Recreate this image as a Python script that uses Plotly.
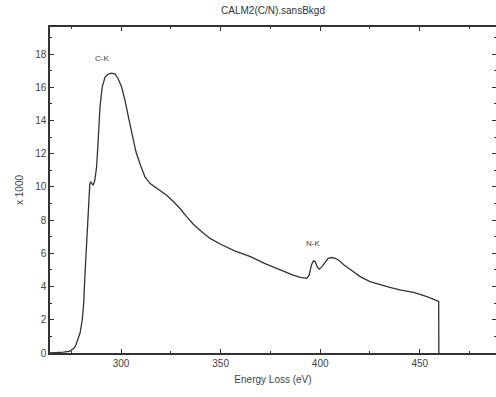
import plotly.graph_objects as go

energy_ev = [264, 268, 271, 274, 276, 277, 278, 279.4, 280.5, 281.2, 281.9, 282.8, 283.6, 284.3, 284.8,
             285.4, 286.0, 286.8, 287.7, 288.5, 289.4, 290.5, 291.9, 293.5, 295.3, 297, 298.6,
             300.3, 302, 303.7, 305.4, 307.5, 309.5, 312, 314.6, 318.5, 322.9, 326, 329.6, 333,
             336.3, 340.5, 344.7, 350, 357, 365, 372, 380, 386, 390, 393.3, 394.5, 395.6, 396.6,
             397.5, 398.5, 399.5, 400.9, 402.5, 404, 405.9, 407.5, 409.2, 412, 416, 420.1, 425,
             430.2, 435, 440, 446.9, 453.6, 459.5, 459.6]
counts_k = [0, 0.02, 0.05, 0.1, 0.25, 0.4, 0.7, 1.2, 2.0, 3.0, 4.8, 7.0, 9.2, 10.2, 10.3,
            10.2, 10.1, 10.4, 11.2, 12.8, 14.8, 16.0, 16.6, 16.8, 16.85, 16.8, 16.5,
            16.0, 15.2, 14.2, 13.2, 12.1, 11.4, 10.6, 10.2, 9.85, 9.5, 9.15, 8.7, 8.2,
            7.75, 7.3, 6.9, 6.55, 6.15, 5.8, 5.4, 5.0, 4.7, 4.55, 4.5, 4.7, 5.3, 5.55,
            5.5, 5.2, 5.05, 5.2, 5.5, 5.7, 5.75, 5.7, 5.6, 5.3, 4.95, 4.6, 4.3,
            4.1, 3.95, 3.8, 3.65, 3.4, 3.1, 0]

edge_labels = ["C-K", "N-K"]
edge_x = [290.3, 396.6]
edge_y = [17.75, 6.6]

title_text = "CALM2(C/N).sansBkgd"
x_title = "Energy Loss (eV)"
y_title = "x 1000"
x_ticks = [300, 350, 400, 450]
y_ticks = list(range(0, 19, 2))

font = "Liberation Sans, Arial, sans-serif"
ink = "#333333"
txt = "#444444"

fig = go.Figure()
fig.add_trace(go.Scatter(x=energy_ev, y=counts_k, mode="lines",
                         line=dict(color=ink, width=1.3), showlegend=False,
                         hoverinfo="skip"))
for t, x, y in zip(edge_labels, edge_x, edge_y):
    fig.add_annotation(x=x, y=y, text=t, showarrow=False,
                       font=dict(family=font, size=8, color=txt))

fig.update_layout(
    width=496, height=397,
    margin=dict(l=50, r=0, t=27, b=44, autoexpand=False),
    paper_bgcolor="white", plot_bgcolor="white",
    title=dict(text=title_text, x=273 / 496, xanchor="center", xref="container",
               y=1 - 10 / 397, yanchor="middle", yref="container",
               font=dict(family=font, size=10, color=ink), automargin=False),
    xaxis=dict(range=[264.3, 488.3], tickvals=x_ticks, ticks="inside", ticklen=4,
               tickcolor=ink, showline=True, linecolor=ink, linewidth=1.5, mirror="ticks",
               showgrid=False, zeroline=False, automargin=False,
               tickfont=dict(family=font, size=10, color=txt),
               minor=dict(dtick=25, tick0=275, ticks="inside", ticklen=2, tickcolor=ink, showgrid=False),
               title=dict(text=x_title, font=dict(family=font, size=10, color=txt), standoff=8)),
    yaxis=dict(range=[0, 19.63], tickvals=y_ticks, ticks="inside", ticklen=4,
               tickcolor=ink, showline=True, linecolor=ink, linewidth=1.5, mirror="ticks",
               showgrid=False, zeroline=False, automargin=False,
               tickfont=dict(family=font, size=10, color=txt),
               minor=dict(dtick=1, ticks="inside", ticklen=2, tickcolor=ink, showgrid=False),
               title=dict(text=y_title, font=dict(family=font, size=10, color=txt), standoff=10)),
)

fig.write_html("out.html", config={"displayModeBar": False},
               post_script="document.body.style.margin='0';document.body.style.overflow='hidden';")
